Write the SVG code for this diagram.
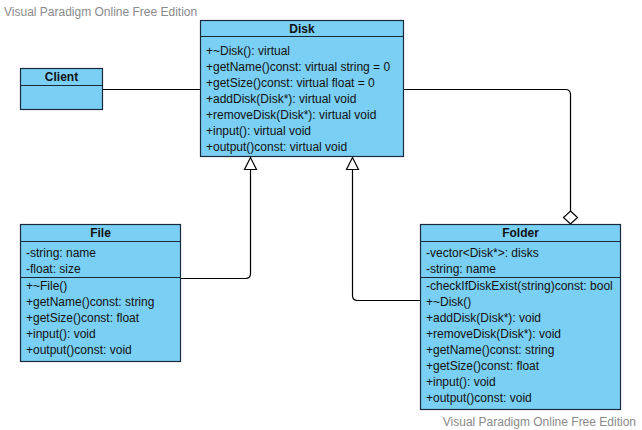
<svg xmlns="http://www.w3.org/2000/svg" width="642" height="430" viewBox="0 0 642 430">
<style>
.box{fill:#7acff5;stroke:#1b2a3a;stroke-width:1.2}
.sep{stroke:#1b2a3a;stroke-width:1.2}
.t{font-family:"Liberation Sans",Arial,sans-serif;font-size:12px;fill:#111}
.h{font-family:"Liberation Sans",Arial,sans-serif;font-size:12px;font-weight:bold;fill:#111;text-anchor:middle}
.wm{font-family:"Liberation Sans",Arial,sans-serif;font-size:12px;fill:#8a8a8a}
.c{fill:none;stroke:#000;stroke-width:1.2}
.head{fill:#fff;stroke:#000;stroke-width:1.2}
</style>
<rect width="642" height="430" fill="#fff"/>
<text class="wm" x="4" y="16">Visual Paradigm Online Free Edition</text>
<text class="wm" x="636" y="426" text-anchor="end">Visual Paradigm Online Free Edition</text>
<g id="connectors">
<line class="c" x1="102.5" y1="89.5" x2="200.5" y2="89.5"/>
<path class="c" d="M180.5,278.5 H245.5 Q250.5,278.5 250.5,273.5 V169.5"/>
<polygon class="head" points="250.5,157.5 244.5,169.5 256.5,169.5"/>
<path class="c" d="M420.5,300.5 H357.5 Q352.5,300.5 352.5,295.5 V169.5"/>
<polygon class="head" points="352.5,157.5 346.5,169.5 358.5,169.5"/>
<path class="c" d="M403.5,89.5 H565.5 Q570.5,89.5 570.5,94.5 V211"/>
<polygon class="head" points="570.5,211 577.5,217.5 570.5,224 563.5,217.5"/>
</g>
<g id="Disk">
<rect class="box" x="200.5" y="20.5" width="203" height="136"/>
<line class="sep" x1="200.5" y1="36.5" x2="403.5" y2="36.5"/>
<text class="h" x="302" y="32.5">Disk</text>
<text class="t" x="206" y="55">+~Disk(): virtual</text>
<text class="t" x="206" y="71">+getName()const: virtual string = 0</text>
<text class="t" x="206" y="87">+getSize()const: virtual float = 0</text>
<text class="t" x="206" y="103">+addDisk(Disk*): virtual void</text>
<text class="t" x="206" y="119">+removeDisk(Disk*): virtual void</text>
<text class="t" x="206" y="135">+input(): virtual void</text>
<text class="t" x="206" y="151">+output()const: virtual void</text>
</g>
<g id="Client">
<rect class="box" x="20.5" y="68.5" width="82" height="41"/>
<line class="sep" x1="20.5" y1="85.5" x2="102.5" y2="85.5"/>
<text class="h" x="61.5" y="80.5">Client</text>
</g>
<g id="File">
<rect class="box" x="20.5" y="224.5" width="160" height="137"/>
<line class="sep" x1="20.5" y1="241.5" x2="180.5" y2="241.5"/>
<line class="sep" x1="20.5" y1="277.5" x2="180.5" y2="277.5"/>
<text class="h" x="100.5" y="236.5">File</text>
<text class="t" x="26" y="257">-string: name</text>
<text class="t" x="26" y="273">-float: size</text>
<text class="t" x="26" y="290">+~File()</text>
<text class="t" x="26" y="306">+getName()const: string</text>
<text class="t" x="26" y="322">+getSize()const: float</text>
<text class="t" x="26" y="338">+input(): void</text>
<text class="t" x="26" y="354">+output()const: void</text>
</g>
<g id="Folder">
<rect class="box" x="420.5" y="224.5" width="200" height="185"/>
<line class="sep" x1="420.5" y1="241.5" x2="620.5" y2="241.5"/>
<line class="sep" x1="420.5" y1="277.5" x2="620.5" y2="277.5"/>
<text class="h" x="520.5" y="236.5">Folder</text>
<text class="t" x="426" y="257">-vector&lt;Disk*&gt;: disks</text>
<text class="t" x="426" y="273">-string: name</text>
<text class="t" x="426" y="290">-checkIfDiskExist(string)const: bool</text>
<text class="t" x="426" y="306">+~Disk()</text>
<text class="t" x="426" y="322">+addDisk(Disk*): void</text>
<text class="t" x="426" y="338">+removeDisk(Disk*): void</text>
<text class="t" x="426" y="354">+getName()const: string</text>
<text class="t" x="426" y="370">+getSize()const: float</text>
<text class="t" x="426" y="386">+input(): void</text>
<text class="t" x="426" y="402">+output()const: void</text>
</g>
</svg>
